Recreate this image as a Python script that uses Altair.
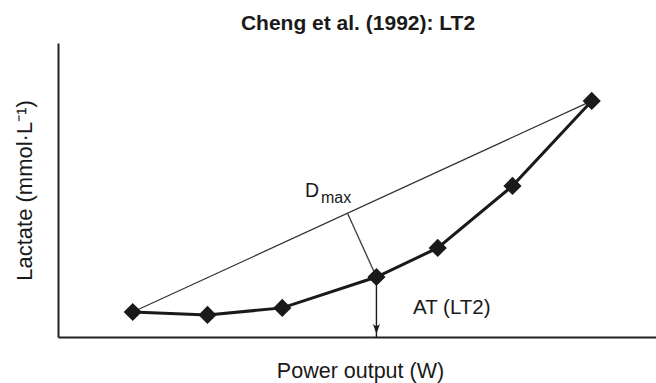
import altair as alt
import pandas as pd

# Data
power = [50, 100, 150, 213, 254, 304, 357]          # W
lactate = [0.85, 0.75, 0.99, 2.04, 3.03, 5.14, 8.03]  # mmol/L
at_index = 3                                       # AT (LT2) stage
dmax_foot_power = 193.6
dmax_foot_lactate = 4.22
dmax_label_pos = (165.2, 4.75)
at_label_pos = (237.5, 0.78)

FONT = "Liberation Sans"
INK = "#1a1a1a"

pts = pd.DataFrame({"power": power, "lactate": lactate})
chord = pd.DataFrame({"power": [power[0], power[-1]], "lactate": [lactate[0], lactate[-1]]})
dmax = pd.DataFrame({"power": [power[at_index], dmax_foot_power],
                     "lactate": [lactate[at_index], dmax_foot_lactate]})
arrow = pd.DataFrame({"power": [power[at_index]], "lactate": [lactate[at_index]], "base": [0.0]})
dlab = pd.DataFrame({"power": [dmax_label_pos[0]], "lactate": [dmax_label_pos[1]]})
atlab = pd.DataFrame({"power": [at_label_pos[0]], "lactate": [at_label_pos[1]], "t": ["AT (LT2)"]})

axis_style = dict(ticks=False, labels=False, grid=False, domainColor="#222222",
                  domainWidth=2, titleFontWeight="normal", titleColor=INK, titleFont=FONT)

xs = alt.Scale(domain=[0, 400], nice=False, zero=False)
ys = alt.Scale(domain=[0, 10], nice=False, zero=False)
X = alt.X("power:Q", scale=xs, title="Power output (W)",
          axis=alt.Axis(titlePadding=23.5, titleFontSize=21.5, titleX=302, **axis_style))
Y = alt.Y("lactate:Q", scale=ys, title="Lactate (mmol·L⁻¹)",
          axis=alt.Axis(titlePadding=22, titleFontSize=22, **axis_style))

chord_l = alt.Chart(chord).mark_line(color="#333333", strokeWidth=1.2).encode(x=X, y=Y)
dmax_l = alt.Chart(dmax).mark_line(color="#444444", strokeWidth=1.4).encode(x=X, y=Y)
rule = alt.Chart(arrow).mark_rule(color=INK, strokeWidth=1.4).encode(
    x=X, y=Y, y2=alt.Y2("base:Q"))
head = alt.Chart(arrow).mark_point(
    shape="M0,1L-0.7,-1L0,-0.5L0.7,-1Z", size=100, filled=True, color=INK, opacity=1,
    yOffset=-8).encode(x=X, y=alt.Y("base:Q", scale=ys))
main = alt.Chart(pts).mark_line(color=INK, strokeWidth=3).encode(x=X, y=Y)
dots = alt.Chart(pts).mark_point(shape="diamond", size=330, filled=True, color=INK,
                                 opacity=1).encode(x=X, y=Y)
d_txt = alt.Chart(dlab).mark_text(text="D", font=FONT, fontSize=19.5, align="left",
                                  baseline="alphabetic", color=INK).encode(x=X, y=Y)
max_txt = alt.Chart(dlab).mark_text(text="max", font=FONT, fontSize=16, align="left",
                                    baseline="alphabetic", color=INK, dx=16, dy=5.4).encode(x=X, y=Y)
at_txt = alt.Chart(atlab).mark_text(font=FONT, fontSize=20.5, align="left",
                                    baseline="alphabetic", color=INK).encode(x=X, y=Y, text="t:N")

chart = alt.layer(chord_l, dmax_l, rule, head, main, dots, d_txt, max_txt, at_txt).properties(
    width=598, height=294,
    background="white",
    title=alt.TitleParams("Cheng et al. (1992): LT2", font=FONT, fontSize=21,
                          fontWeight="bold", color=INK, anchor="middle", offset=9, dx=1),
    padding={"left": 58, "top": 43, "right": 0, "bottom": 46},
    autosize=alt.AutoSizeParams(type="none"),
).configure_view(stroke=None)

chart.save("out.html", embed_options={"renderer": "svg", "actions": False})
